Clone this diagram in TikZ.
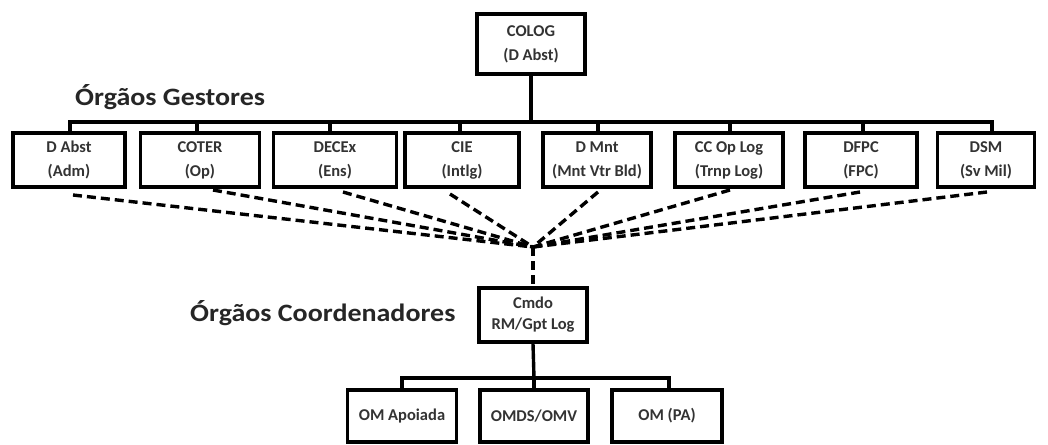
\documentclass[tikz,border=0pt]{standalone}
\usepackage{fontspec}
\setmainfont{Carlito}
\newfontfamily\lblfont[FakeStretch=1.12]{Carlito}
\begin{document}
\begin{tikzpicture}[x=1pt,y=-1pt,
  org/.style={draw=black,line width=3.4pt,fill=white,minimum height=54pt,align=center,font=\fontsize{16.5}{24}\selectfont\bfseries,text=black!80,inner sep=1pt},
  org2/.style={org,font=\fontsize{16.5}{21}\selectfont\bfseries},
  bus/.style={line width=3.4pt,line cap=rect},
  dsh/.style={line width=3.4pt,dash pattern=on 9pt off 5pt},
  lbl/.style={font=\lblfont\fontsize{25}{28}\selectfont\bfseries,text=black!85,anchor=west,inner sep=0pt}]
\useasboundingbox (0,0) rectangle (1048,444);
% top
\node[org,minimum width=108pt,minimum height=60pt] (colog) at (531,44) {COLOG\\(D Abst)};
\node[lbl] (gest) at (75,97) {Órgãos Gestores};
% row of gestores
\node[org,minimum width=112pt] (g1) at (69,160) {D Abst\\(Adm)};
\node[org,minimum width=119pt] (g2) at (200,160) {COTER\\(Op)};
\node[org,minimum width=123pt] (g3) at (335,160) {DECEx\\(Ens)};
\node[org,minimum width=114pt] (g4) at (462,160) {CIE\\(Intlg)};
\node[org,minimum width=108pt] (g5) at (597,160) {D Mnt\\(Mnt Vtr Bld)};
\node[org,minimum width=108pt] (g6) at (729,160) {CC Op Log\\(Trnp Log)};
\node[org,minimum width=112pt] (g7) at (861,160) {DFPC\\(FPC)};
\node[org,minimum width=97pt] (g8) at (986,160) {DSM\\(Sv Mil)};
\coordinate (bus) at (531,122);
\draw[bus] (colog.south) -- (bus);
\draw[bus] (70,122) -- (992,122);
\foreach \x in {70,197,330,460,598,730,863,992}
  \draw[bus] (\x,122) -- (\x,131);
% convergence
\coordinate (hub) at (533,247);
\draw[dsh] (73,195) -- (hub);
\draw[dsh] (213,190) -- (hub);
\draw[dsh] (343,192) -- (hub);
\draw[dsh] (450,194) -- (hub);
\draw[dsh] (598,192) -- (hub);
\draw[dsh] (730,190) -- (hub);
\draw[dsh] (860,192) -- (hub);
\draw[dsh] (987,192) -- (hub);
% coordenador
\node[org2,minimum width=108pt,minimum height=54pt] (cmdo) at (533,315) {Cmdo\\RM/Gpt Log};
\draw[dsh] (hub) -- (cmdo.north);
\node[lbl] (coord) at (190,313) {Órgãos Coordenadores};
% bottom
\node[org,minimum width=109pt,minimum height=52pt] (b1) at (402,416) {OM Apoiada};
\node[org,minimum width=108pt,minimum height=52pt] (b2) at (534,416) {OMDS/OMV};
\node[org,minimum width=110pt,minimum height=52pt] (b3) at (667,416) {OM (PA)};
\coordinate (bbus) at (534,378);
\draw[bus] (cmdo.south) -- (bbus);
\draw[bus] (402,378) -- (669,378);
\draw[bus] (402,378) -- (b1.north);
\draw[bus] (534,378) -- (b2.north);
\draw[bus] (669,378) -- (669,390);
\end{tikzpicture}
\end{document}
